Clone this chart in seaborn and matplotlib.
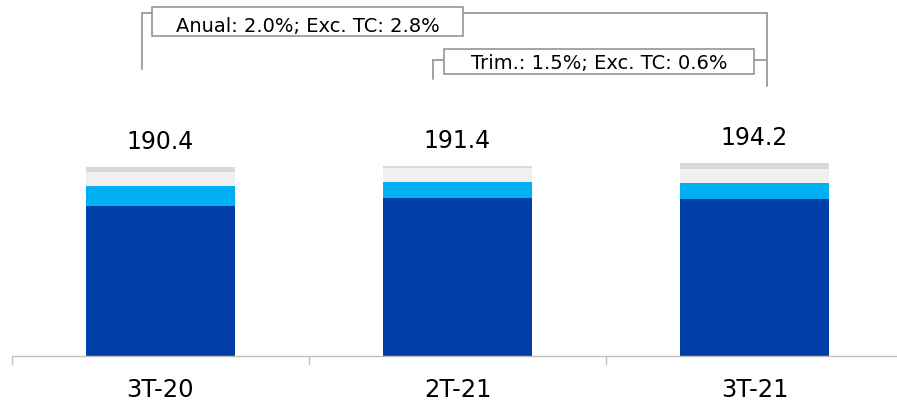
import matplotlib
matplotlib.use("Agg")
import matplotlib.pyplot as plt
from matplotlib.patches import Rectangle
import seaborn as sns
import pandas as pd

categories = ["3T-20", "2T-21", "3T-21"]
totals = [190.4, 191.4, 194.2]
seg_dark = [151.4, 158.8, 157.7]
seg_light_blue = [20.1, 16.7, 16.4]
seg_light_gray = [14.1, 13.8, 14.1]
seg_gray = [4.8, 2.1, 6.0]

annual_text = "Anual: 2.0%; Exc. TC: 2.8%"
trim_text = "Trim.: 1.5%; Exc. TC: 0.6%"

colors = {"dark": "#0040A6", "lb": "#00B0F0", "lg": "#F0F0F0", "gray": "#D9D9D9"}

sns.set_theme(style="white")
plt.rcParams['font.family'] = ['DejaVu Sans']

W, H = 897, 402
fig = plt.figure(figsize=(W / 100, H / 100), dpi=100)
px_per_unit = 0.993
ylim_top = 350
ax = fig.add_axes([12 / W, 45 / H, 891 / W, ylim_top * px_per_unit / H])

df = pd.DataFrame({"cat": categories, "dark": seg_dark, "lb": seg_light_blue,
                   "lg": seg_light_gray, "gray": seg_gray})
df["c1"] = df["dark"]
df["c2"] = df["c1"] + df["lb"]
df["c3"] = df["c2"] + df["lg"]
df["c4"] = df["c3"] + df["gray"]

for col, key in [("c4", "gray"), ("c3", "lg"), ("c2", "lb"), ("c1", "dark")]:
    sns.barplot(data=df, x="cat", y=col, color=colors[key], width=0.5,
                saturation=1, ax=ax, linewidth=0, order=categories)

ax.set_xlim(-0.5, 2.5)
ax.set_ylim(0, ylim_top)
ax.set_xlabel("")
ax.set_ylabel("")
ax.set_yticks([])
for s in ["top", "right", "left"]:
    ax.spines[s].set_visible(False)
ax.spines["bottom"].set_color("#BFBFBF")
ax.spines["bottom"].set_linewidth(1)

ax.set_xticks([0, 1, 2])
ax.set_xticklabels(categories, fontsize=17.5, color="#000000")
ax.tick_params(axis="x", length=0, pad=15)
for xb in [-0.5, 0.5, 1.5]:
    ax.plot([xb, xb], [0, -8], color="#BFBFBF", lw=1, clip_on=False)

for i, t in enumerate(totals):
    ax.text(i, df["c4"][i] + 18.8, f"{t:.1f}", ha="center", va="baseline",
            fontsize=17, color="#000000")

# overlay in pixel coordinates for the bracket annotations
ov = fig.add_axes([0, 0, 1, 1], facecolor="none")
ov.set_xlim(0, W)
ov.set_ylim(H, 0)
ov.axis("off")

lc = "#A0A0A0"
bc = "#8C8C8C"
# annual bracket
ov.plot([142, 142, 767, 767], [70, 13.5, 13.5, 87], color=lc, lw=1.4,
        solid_joinstyle="miter", zorder=1)
ov.add_patch(Rectangle((152, 8.3), 311, 28.4, fc="white", ec=bc, lw=1.1, zorder=2))
ov.text(307.5, 31.7, annual_text, ha="center", va="baseline", fontsize=14,
        color="#000000", zorder=3)
# trim bracket
ov.plot([432.5, 432.5, 767], [80, 60.5, 60.5], color=lc, lw=1.4,
        solid_joinstyle="miter", zorder=1)
ov.add_patch(Rectangle((444, 49.5), 310, 25.8, fc="white", ec=bc, lw=1.1, zorder=2))
ov.text(599, 69.3, trim_text, ha="center", va="baseline", fontsize=14,
        color="#000000", zorder=3)

fig.savefig("out.png", dpi=100)
